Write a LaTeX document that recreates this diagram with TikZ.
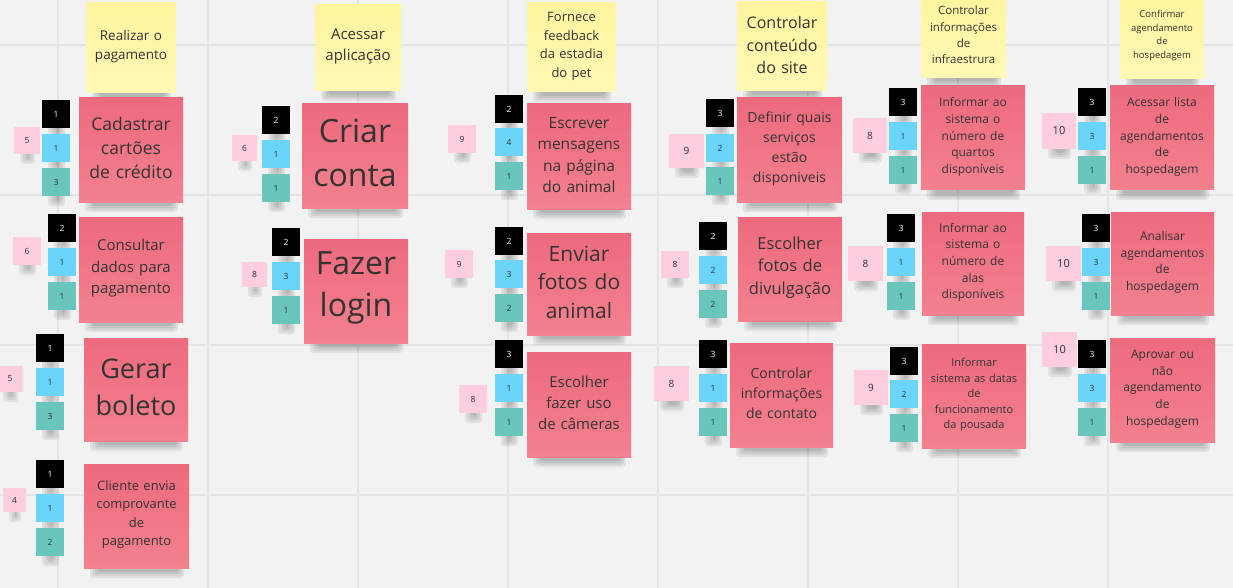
\documentclass[tikz,border=0pt]{standalone}
\usepackage{fontspec}
\setmainfont{Open Sans}
\definecolor{bg}{HTML}{F2F2F2}
\definecolor{gridc}{HTML}{E4E4E4}
\definecolor{pinkA}{HTML}{EE6A7E}
\definecolor{pinkB}{HTML}{F3818F}
\definecolor{yelA}{HTML}{FFF59F}
\definecolor{yelB}{HTML}{FFF8B4}
\definecolor{blueS}{HTML}{6BD4FA}
\definecolor{tealS}{HTML}{69C6BD}
\definecolor{lpink}{HTML}{FFCDE0}
\definecolor{txt}{HTML}{333333}
\tikzset{
  pinkfill/.style={top color=pinkA, bottom color=pinkB},
  yelfill/.style={top color=yelA, bottom color=yelB},
  notetext/.style={rectangle, align=center, text=txt, inner sep=0pt},
  sqbase/.style={rectangle, minimum size=28pt, inner sep=0pt, font=\fontsize{8.5}{10}\selectfont},
  blacksq/.style={sqbase, fill=black, text=white},
  bluesq/.style={sqbase, fill=blueS, text=txt},
  tealsq/.style={sqbase, fill=tealS, text=txt},
  lpsq/.style={rectangle, fill=lpink, text=txt, inner sep=0pt},
}
\newcommand{\shd}[3]{%
  \foreach \k in {0,1,2,3} {\fill[black, opacity=0.065, rounded corners=3pt] ({#1+6+2.5*\k},{#3-4}) rectangle ({#2-5-2*\k},{#3+10-2*\k});}%
}
\newcommand{\stk}[9]{%
  \shd{#3}{#5}{#6}%
  \fill[#2] (#3,#4) rectangle (#5,#6);%
  \pgfmathsetmacro\tw{#5-#3-10}%
  \node[notetext, text width=\tw pt, font=\fontsize{#7}{#8}\selectfont] (#1) at ({(#3+#5)/2},{(#4+#6)/2-0.09*#7}) {#9};%
}
\newcommand{\sq}[5]{%
  \shd{#3}{#3+28}{#4+28}%
  \node[#2] (#1) at ({#3+14},{#4+14}) {#5};%
}
\newcommand{\lps}[7]{%
  \shd{#2}{#4}{#5}%
  \pgfmathsetmacro\ww{#4-#2}\pgfmathsetmacro\hh{#5-#3}%
  \node[lpsq, minimum width=\ww pt, minimum height=\hh pt, font=\fontsize{#6}{#6}\selectfont] (#1) at ({(#2+#4)/2},{(#3+#5)/2}) {#7};%
}
\begin{document}
\begin{tikzpicture}[x=1pt,y=-1pt]
\useasboundingbox (0,0) rectangle (1233,588);
\fill[bg] (0,0) rectangle (1233,588);
\foreach \x in {58,208,...,1108} \draw[gridc, line width=1.2pt] (\x,0) -- (\x,588);
\foreach \y in {45,195,345,495} \draw[gridc, line width=1.2pt] (0,\y) -- (1233,\y);

% ---------- column 1
\stk{y1}{yelfill}{86}{3}{176}{93}{13.5}{19}{Realizar o\\pagamento}
\stk{p1}{pinkfill}{79}{98}{183}{202}{17.5}{24}{Cadastrar\\cartões\\de crédito}
\sq{p1k}{blacksq}{42}{100}{1}\sq{p1b}{bluesq}{42}{134}{1}\sq{p1t}{tealsq}{42}{168}{3}
\lps{p1l}{14}{127}{40}{154}{8.5}{5}
\stk{p2}{pinkfill}{79}{217}{183}{322}{15}{21.5}{Consultar\\dados para\\pagamento}
\sq{p2k}{blacksq}{48}{214}{2}\sq{p2b}{bluesq}{48}{248}{1}\sq{p2t}{tealsq}{48}{282}{1}
\lps{p2l}{13}{237}{41}{265}{8.5}{6}
\stk{p3}{pinkfill}{84}{338}{188}{441}{27}{37}{Gerar\\boleto}
\sq{p3k}{blacksq}{36}{334}{1}\sq{p3b}{bluesq}{36}{368}{1}\sq{p3t}{tealsq}{36}{402}{3}
\lps{p3l}{-3}{366}{23}{392}{8.5}{5}
\stk{p4}{pinkfill}{84}{464}{189}{568}{13}{18.5}{Cliente envia\\comprovante\\de\\pagamento}
\sq{p4k}{blacksq}{36}{460}{1}\sq{p4b}{bluesq}{36}{494}{1}\sq{p4t}{tealsq}{36}{528}{2}
\lps{p4l}{3}{488}{26}{512}{8.5}{4}

% ---------- column 2
\stk{y2}{yelfill}{315}{5}{401}{91}{15}{21}{Acessar\\aplicação}
\stk{p5}{pinkfill}{302}{104}{408}{208}{32}{44}{Criar\\conta}
\sq{p5k}{blacksq}{262}{106}{2}\sq{p5b}{bluesq}{262}{140}{1}\sq{p5t}{tealsq}{262}{174}{1}
\lps{p5l}{232}{135}{257}{161}{8.5}{6}
\stk{p6}{pinkfill}{304}{239}{408}{343}{32}{42}{Fazer\\login}
\sq{p6k}{blacksq}{272}{228}{2}\sq{p6b}{bluesq}{272}{262}{3}\sq{p6t}{tealsq}{272}{296}{1}
\lps{p6l}{242}{262}{267}{287}{8.5}{8}

% ---------- column 3
\stk{y3}{yelfill}{527}{3}{616}{92}{13}{18.5}{Fornece\\feedback\\da estadia\\do pet}
\stk{p7}{pinkfill}{527}{104}{631}{209}{15.5}{21.5}{Escrever\\mensagens\\na página\\do animal}
\sq{p7k}{blacksq}{495}{95}{2}\sq{p7b}{bluesq}{495}{128}{4}\sq{p7t}{tealsq}{495}{162}{1}
\lps{p7l}{448}{125}{476}{153}{8.5}{9}
\stk{p8}{pinkfill}{527}{233}{631}{335}{21}{28.5}{Enviar\\fotos do\\animal}
\sq{p8k}{blacksq}{495}{227}{2}\sq{p8b}{bluesq}{495}{260}{3}\sq{p8t}{tealsq}{495}{294}{2}
\lps{p8l}{445}{250}{473}{278}{8.5}{9}
\stk{p9}{pinkfill}{527}{352}{631}{457}{15}{21}{Escolher\\fazer uso\\de câmeras}
\sq{p9k}{blacksq}{495}{340}{3}\sq{p9b}{bluesq}{495}{374}{1}\sq{p9t}{tealsq}{495}{408}{1}
\lps{p9l}{459}{385}{487}{413}{8.5}{8}

% ---------- column 4
\stk{y4}{yelfill}{737}{2}{827}{91}{16}{22.5}{Controlar\\conteúdo\\do site}
\stk{p10}{pinkfill}{737}{98}{842}{202}{14}{20}{Definir quais\\serviços\\estão\\disponiveis}
\sq{p10k}{blacksq}{706}{99}{3}\sq{p10b}{bluesq}{706}{134}{2}\sq{p10t}{tealsq}{706}{167}{1}
\lps{p10l}{669}{134}{704}{168}{10}{9}
\stk{p11}{pinkfill}{738}{217}{842}{321}{16.5}{22.5}{Escolher\\fotos de\\divulgação}
\sq{p11k}{blacksq}{699}{222}{2}\sq{p11b}{bluesq}{699}{256}{2}\sq{p11t}{tealsq}{699}{290}{2}
\lps{p11l}{661}{251}{689}{278}{8.5}{8}
\stk{p12}{pinkfill}{730}{343}{833}{447}{14}{20}{Controlar\\informações\\de contato}
\sq{p12k}{blacksq}{699}{340}{3}\sq{p12b}{bluesq}{699}{374}{1}\sq{p12t}{tealsq}{699}{408}{1}
\lps{p12l}{654}{366}{689}{401}{10}{8}

% ---------- column 5
\stk{y5}{yelfill}{921}{-6}{1006}{78}{11.5}{16.3}{Controlar\\informações\\de\\infraestrura}
\stk{p13}{pinkfill}{921}{86}{1025}{190}{12}{16.7}{Informar ao\\sistema o\\número de\\quartos\\disponíveis}
\sq{p13k}{blacksq}{889}{88}{3}\sq{p13b}{bluesq}{889}{122}{1}\sq{p13t}{tealsq}{889}{156}{1}
\lps{p13l}{853}{118}{887}{153}{10}{8}
\stk{p14}{pinkfill}{922}{212}{1024}{315}{12}{16.7}{Informar ao\\sistema o\\número de\\alas\\disponíveis}
\sq{p14k}{blacksq}{887}{214}{3}\sq{p14b}{bluesq}{887}{248}{1}\sq{p14t}{tealsq}{887}{282}{1}
\lps{p14l}{848}{246}{883}{281}{10}{8}
\stk{p15}{pinkfill}{922}{344}{1026}{448}{11}{15.5}{Informar\\sistema as datas\\de\\funcionamento\\da pousada}
\sq{p15k}{blacksq}{890}{347}{3}\sq{p15b}{bluesq}{890}{380}{2}\sq{p15t}{tealsq}{890}{414}{1}
\lps{p15l}{854}{370}{888}{405}{10}{9}

% ---------- column 6
\stk{y6}{yelfill}{1120}{-6}{1204}{79}{9.5}{13.5}{Confirmar\\agendamento\\de\\hospedagem}
\stk{p16}{pinkfill}{1110}{86}{1214}{190}{12}{16.7}{Acessar lista\\de\\agendamentos\\de\\hospedagem}
\sq{p16k}{blacksq}{1078}{88}{3}\sq{p16b}{bluesq}{1078}{122}{3}\sq{p16t}{tealsq}{1078}{156}{1}
\lps{p16l}{1042}{113}{1076}{149}{11}{10}
\stk{p17}{pinkfill}{1111}{212}{1214}{315}{12}{16.5}{Analisar\\agendamentos\\de\\hospedagem}
\sq{p17k}{blacksq}{1082}{214}{3}\sq{p17b}{bluesq}{1082}{248}{3}\sq{p17t}{tealsq}{1082}{282}{1}
\lps{p17l}{1046}{246}{1081}{281}{11}{10}
\stk{p18}{pinkfill}{1110}{338}{1215}{442}{12}{16.7}{Aprovar ou\\não\\agendamento\\de\\hospedagem}
\sq{p18k}{blacksq}{1078}{340}{3}\sq{p18b}{bluesq}{1078}{374}{3}\sq{p18t}{tealsq}{1078}{408}{1}
\lps{p18l}{1042}{332}{1077}{367}{11}{10}
\end{tikzpicture}
\end{document}
